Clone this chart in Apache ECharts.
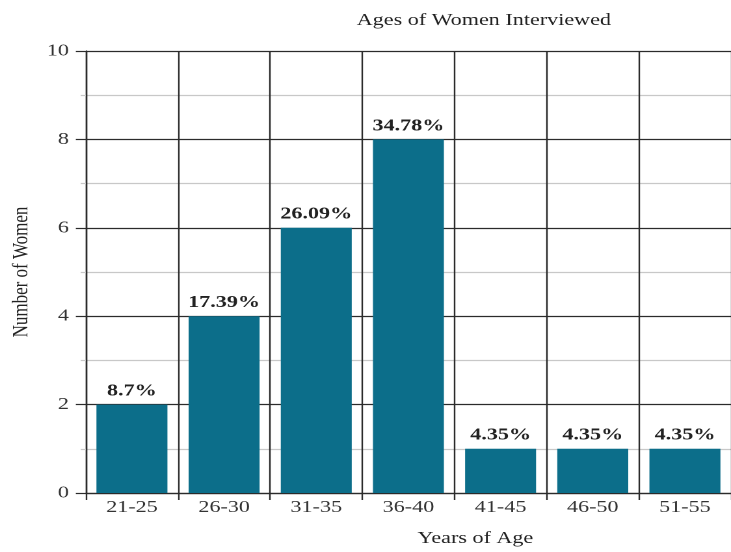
<!DOCTYPE html>
<html>
<head>
<meta charset="utf-8">
<script src="https://cdn.jsdelivr.net/npm/echarts@6/dist/echarts.min.js"></script>
<style>
  html, body { margin: 0; padding: 0; background: #fff; overflow: hidden; }
  #wrap { width: 731px; height: 552px; overflow: hidden; position: relative; }
  /* The chart is laid out narrower and widened horizontally, giving the wide serif look */
  #chart { width: 562px; height: 552px; transform: scaleX(1.3007); transform-origin: 0 0; }
</style>
</head>
<body>
<div id="wrap"><div id="chart"></div></div>
<script>
const ageGroups = ['21-25', '26-30', '31-35', '36-40', '41-45', '46-50', '51-55'];
const womenCounts = [2, 4, 6, 8, 1, 1, 1];
const shareLabels = ['8.7%', '17.39%', '26.09%', '34.78%', '4.35%', '4.35%', '4.35%'];
const yTicks = [0, 2, 4, 6, 8, 10];

const serif = '"Liberation Serif", "Times New Roman", serif';
const ink = '#222';
const gridDark = '#2b2b2b';
const gridLight = '#c8c8c8';

const chart = echarts.init(document.getElementById('chart'), null, { renderer: 'canvas', devicePixelRatio: 2 });

chart.setOption({
  backgroundColor: '#fff',
  animation: false,
  title: {
    text: 'Ages of Women Interviewed',
    left: 367,
    top: 7,
    textAlign: 'center',
    textStyle: { fontFamily: serif, fontSize: 17, fontWeight: 'normal', color: ink }
  },
  grid: { left: 63.8, right: -6.5, top: 51, bottom: 55, containLabel: false },
  xAxis: {
    type: 'category',
    data: ageGroups,
    boundaryGap: true,
    name: 'Years of Age',
    nameLocation: 'middle',
    nameGap: 37,
    nameTextStyle: { fontFamily: serif, fontSize: 17, color: ink, padding: [0, 0, 0, 103] },
    axisLine: { show: true, lineStyle: { color: gridDark, width: 1.2 } },
    axisTick: { show: true, length: 7, lineStyle: { color: gridDark, width: 1.2 } },
    axisLabel: { fontFamily: serif, fontSize: 17, color: '#333', margin: 6 },
    splitLine: { show: true, lineStyle: { color: gridDark, width: 1.2 } }
  },
  yAxis: {
    type: 'value',
    min: yTicks[0],
    max: yTicks[yTicks.length - 1],
    interval: 2,
    name: 'Number of Women',
    nameLocation: 'middle',
    nameGap: 41,
    nameRotate: 90,
    nameTextStyle: { fontFamily: serif, fontSize: 17, color: ink },
    axisLine: { show: true, lineStyle: { color: gridDark, width: 1.2 } },
    axisTick: { show: true, length: 7.7, lineStyle: { color: gridDark, width: 1.2 } },
    minorTick: { show: true, splitNumber: 2, length: 4, lineStyle: { color: gridLight, width: 1.2 } },
    axisLabel: { fontFamily: serif, fontSize: 17, color: '#333', margin: 13 },
    splitLine: { show: true, lineStyle: { color: gridDark, width: 1.2 } },
    minorSplitLine: { show: true, lineStyle: { color: gridLight, width: 1.2 } }
  },
  series: [{
    type: 'bar',
    data: womenCounts,
    barCategoryGap: '23%',
    itemStyle: { color: '#0c6e8a' },
    label: {
      show: true,
      position: 'top',
      distance: 5,
      formatter: p => shareLabels[p.dataIndex],
      fontFamily: serif,
      fontSize: 17,
      fontWeight: 'bold',
      color: ink
    }
  }]
});
</script>
</body>
</html>
